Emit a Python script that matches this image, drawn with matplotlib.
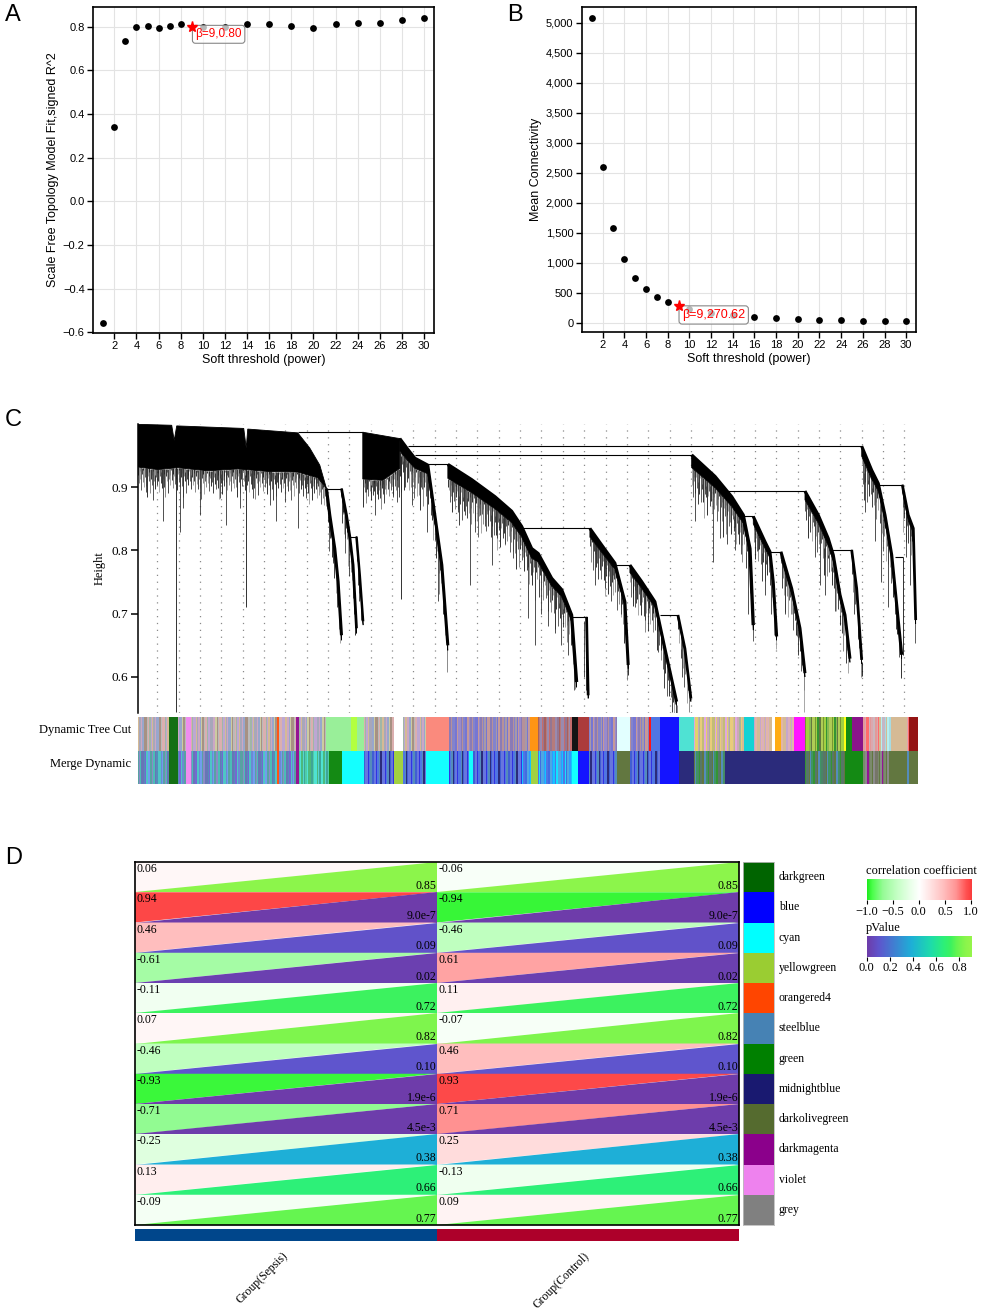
import numpy as np
import matplotlib
matplotlib.use("Agg")
import matplotlib.pyplot as plt
from matplotlib.colors import LinearSegmentedColormap
from matplotlib.collections import LineCollection, PolyCollection
from matplotlib.patches import Polygon, Rectangle
from matplotlib.ticker import FuncFormatter

SANS = ['Liberation Sans', 'DejaVu Sans']
SERIF = ['Liberation Serif', 'DejaVu Serif']
plt.rcParams['font.family'] = SANS

# ---------------- Panel A / B data ----------------
powers = [1, 2, 3, 4, 5, 6, 7, 8, 9, 10, 12, 14, 16, 18, 20, 22, 24, 26, 28, 30]
signed_r2 = [-0.558, 0.34, 0.733, 0.797, 0.803, 0.792, 0.803, 0.812, 0.80, 0.80,
             0.80, 0.81, 0.81, 0.803, 0.795, 0.81, 0.818, 0.817, 0.829, 0.838]
mean_conn = [5072, 2600, 1572, 1055, 750, 561, 433, 339, 270.62, 222,
             167, 122, 89, 72, 56, 44, 39, 33, 28, 22]
best_power = 9
best_r2 = 0.80
best_k = 270.62

# ---------------- Panel C data (dendrogram, leaf axis 0..780) ----------------
block_A_top_u = [0, 34, 36.5, 39, 106, 108.5, 110, 160, 172, 182, 188.7]
block_A_top_h = [0.9995, 0.998, 0.974, 0.997, 0.993, 0.962, 0.992, 0.986, 0.962, 0.935, 0.898]
block_A_bot_u = [0, 20, 40, 70, 100, 130, 160, 180, 188.7]
block_A_bot_h = [0.932, 0.928, 0.931, 0.926, 0.929, 0.925, 0.924, 0.915, 0.898]
block_A_leaves = [(8.7, 0.893), (15.3, 0.880), (25.3, 0.846), (42, 0.83), (45.3, 0.867),
                  (62, 0.856), (82, 0.883), (88.7, 0.84), (102, 0.867), (115.3, 0.883),
                  (132, 0.872), (138.7, 0.847), (147, 0.877), (160.3, 0.835), (168.7, 0.883)]
block_B_top_u = [225, 258, 262]
block_B_top_h = [0.987, 0.978, 0.977]
block_B_bot_u = [225, 245, 262]
block_B_bot_h = [0.913, 0.911, 0.93]
block_B_leaves = [(228.7, 0.893), (237, 0.856), (245, 0.89), (255, 0.885), (259, 0.877)]
extra_leaves = [(38.7, 0.974, 0.545), (108.7, 0.962, 0.71), (263.5, 0.95, 0.724), (765.3, 0.79, 0.635)]

branches = [
    # path, t0, t1, lw, leaves
    ([(188.7, 0.898), (192, 0.856), (197, 0.803), (200.3, 0.751), (203.7, 0.666)], 0.012, 0.008, 2.2,
     [(191, 0.83), (195, 0.78), (199, 0.71)]),
    ([(203.7, 0.898), (208.7, 0.856), (212, 0.822), (215.3, 0.777), (218.7, 0.677)], 0.010, 0.008, 2.0,
     [(207, 0.82), (211, 0.76), (216, 0.70)]),
    ([(218.7, 0.822), (222, 0.76), (225.3, 0.688)], 0.008, 0.006, 1.8, [(221, 0.72)]),
    ([(262, 0.977), (270, 0.96), (277, 0.946), (290, 0.935), (297, 0.856), (304, 0.777), (310, 0.65)],
     0.02, 0.008, 2.2, [(267, 0.90), (274, 0.872), (283, 0.90), (289, 0.83), (300, 0.72)]),
    ([(310, 0.936), (333.7, 0.912), (357, 0.885), (373.7, 0.862), (383.7, 0.838), (393.7, 0.803),
      (400.3, 0.795), (413.7, 0.756), (423.7, 0.738), (433.7, 0.698), (438.7, 0.592)], 0.022, 0.008, 2.4,
     [(315, 0.893), (320, 0.861), (327, 0.856), (332, 0.745), (337, 0.83), (342, 0.856), (347, 0.838),
      (353.7, 0.777), (359, 0.82), (367, 0.81), (375, 0.788), (384, 0.80), (390.3, 0.693), (397, 0.65),
      (403, 0.70), (410, 0.68), (417, 0.67), (423, 0.65), (430, 0.635)]),
    ([(448.7, 0.695), (449.5, 0.63), (450.3, 0.571)], 0.006, 0.005, 2.0, [(446, 0.60), (448, 0.58)]),
    ([(452, 0.835), (463.7, 0.809), (477, 0.78), (487, 0.719), (490.3, 0.619)], 0.014, 0.006, 2.2,
     [(457, 0.745), (467, 0.74), (473, 0.72), (483, 0.70)]),
    ([(492, 0.777), (503.7, 0.751), (513.7, 0.727), (517, 0.719), (527, 0.645), (538.7, 0.561)],
     0.012, 0.006, 2.2, [(497, 0.71), (507, 0.69), (520, 0.64), (530, 0.60)]),
    ([(540, 0.698), (547, 0.645), (553, 0.566)], 0.006, 0.005, 2.0, [(544, 0.60), (550, 0.58)]),
    ([(553.7, 0.951), (577, 0.917), (593.7, 0.885), (605.3, 0.856), (612, 0.803), (615.3, 0.682)],
     0.02, 0.008, 2.4, [(557, 0.846), (567, 0.89), (575.3, 0.782), (582, 0.82), (589, 0.81),
                        (597, 0.80), (603, 0.795), (610, 0.70)]),
    ([(615.3, 0.854), (627, 0.814), (632, 0.798), (635.3, 0.75), (638.7, 0.664)], 0.012, 0.006, 2.2,
     [(620, 0.80), (627, 0.73), (633, 0.70)]),
    ([(643, 0.798), (653.7, 0.74), (662, 0.677), (667, 0.606)], 0.010, 0.006, 2.2,
     [(647, 0.70), (657, 0.69)]),
    ([(667, 0.894), (680.3, 0.856), (690.3, 0.819), (695.3, 0.793), (702, 0.73), (707, 0.698), (712, 0.629)],
     0.014, 0.006, 2.2, [(670.3, 0.833), (677, 0.79), (682, 0.745), (687, 0.73), (697, 0.705)]),
    ([(713.7, 0.801), (718.7, 0.74), (723.7, 0.627)], 0.008, 0.006, 2.0, [(716, 0.70), (720, 0.66)]),
    ([(723.7, 0.965), (733.7, 0.927), (740.3, 0.906), (747, 0.856), (753.7, 0.793), (763.7, 0.635)],
     0.016, 0.006, 2.2, [(727, 0.861), (737, 0.815), (743, 0.75), (750, 0.71), (757, 0.70)]),
    ([(764.3, 0.904), (770.3, 0.856), (775.3, 0.835), (777.7, 0.69)], 0.010, 0.006, 2.0,
     [(768, 0.79), (772, 0.745), (776, 0.72)]),
]
merges = [(160, 225, 0.987), (270, 723.7, 0.965), (277, 553.7, 0.951), (290, 310, 0.936),
          (188.7, 203.7, 0.898), (212, 218.7, 0.822), (383.7, 452, 0.835), (433.7, 448.7, 0.695),
          (477, 492, 0.777), (522, 540, 0.698), (605.3, 615.3, 0.854), (632, 643, 0.798),
          (587, 667, 0.894), (693.7, 713.7, 0.801), (740.3, 764.3, 0.904), (757, 765.3, 0.79)]
hair_pat = [0.012, 0.025, 0.006, 0.018, 0.035, 0.01, 0.022, 0.004, 0.03, 0.015, 0.008, 0.028,
            0.045, 0.012, 0.02, 0.006, 0.038, 0.016, 0.01, 0.026, 0.003, 0.019, 0.032, 0.009]
hair_cols = ['#222222', '#777777', '#111111', '#999999', '#444444']

# colour bars
mix_palettes = {
    'dA': ['#d2b48c', '#a0a0b4', '#c8a0c0', '#8fa0c8', '#c8c898', '#a08878', '#b4b4b4', '#d8a8a8', '#98b0a0', '#b8a0d0'],
    'dB': ['#9080c8', '#8070b0', '#b08890', '#7878c8', '#a090a0', '#6a6ad0', '#c09090'],
    'dC': ['#a0524f', '#b07070', '#9080a8', '#c06060', '#8a6a8a'],
    'dD': ['#d2b48c', '#bdb76b', '#dda0dd', '#e0d060', '#c8a0b0', '#a0b090', '#e8c870'],
    'dE': ['#d8a8b8', '#d2b48c', '#c0a0c8', '#e0b0a0'],
    'dF': ['#6b8e23', '#9acd32', '#228b22', '#7cb342', '#556b2f', '#a8c848'],
    'dG': ['#d8a0a8', '#ff6060', '#c8b0b8', '#e09090'],
    'dH': ['#afeeee', '#c0b0c0', '#a0d8e0', '#d2b48c'],
    'mA': ['#4682b4', '#6a5acd', '#40c0c0', '#5f7fd0', '#6495ed', '#4a9a9a', '#8080c0', '#3cb8b0', '#5a6ab0'],
    'mB': ['#40e0d0', '#3cb371', '#48d1cc', '#2e9e8e', '#40c8a0'],
    'mC': ['#2020e0', '#4169e1', '#4682b4', '#191970', '#3050d0', '#5a6adc'],
    'mD': ['#1e90ff', '#00bfff', '#4169e1', '#00e0ff', '#3060e0', '#40a0e0'],
    'mE': ['#556b2f', '#4682b4', '#2e8b57', '#3a7a5a', '#228b22', '#4a6a5a'],
    'mF': ['#556b2f', '#808080', '#8b008b', '#6a6a5a', '#708060'],
}
stripe_w = [1.1, 2.3, 0.8, 1.6, 0.6, 2.9, 1.2, 0.9, 1.9, 0.7, 1.4, 2.1]
dtc_segments = [
    (0, 31.3, 'dA'), (31.3, 40.3, '#006400'), (40.3, 48, 'dA'), (48, 53, '#ee82ee'), (53, 139.7, 'dA'),
    (139.7, 141.7, '#ff4500'), (141.7, 158, 'dA'), (158, 161.3, '#8b008b'), (161.3, 188, 'dA'),
    (188, 213, '#90ee90'), (213, 219.7, '#adff2f'), (219.7, 226.3, '#90ee90'), (226.3, 256.3, 'dA'),
    (256.3, 264.7, '#ffffff'), (264.7, 288, 'dA'), (288, 311.3, '#fa8072'), (311.3, 392.3, 'dB'),
    (392.3, 400, '#ff8c00'), (400, 434, 'dC'), (434, 440, '#000000'), (440, 451.3, '#a52a2a'),
    (451.3, 479, 'dB'), (479, 492.3, '#e0ffff'), (492.3, 510.7, 'dB'), (510.7, 513.3, '#ff0000'),
    (513.3, 522.3, '#4169e1'), (522.3, 540.7, '#0000ff'), (540.7, 556.3, '#40e0d0'), (556.3, 605.7, 'dD'),
    (605.7, 616.3, '#00ced1'), (616.3, 634, 'dE'), (634, 637.3, '#ffffff'), (637.3, 643.3, '#ffa500'),
    (643.3, 655.7, 'dE'), (655.7, 667.3, '#ff00ff'), (667.3, 705.7, 'dF'), (705.7, 708, '#ffff00'),
    (708, 714, '#008000'), (714, 724.7, '#800080'), (724.7, 740.7, 'dG'), (740.7, 754, 'dH'),
    (754, 769, '#d2b48c'), (769, 771, 'dG'), (771, 780, '#8b0000')]
merge_segments = [
    (0, 31.3, 'mA'), (31.3, 40.3, '#006400'), (40.3, 48, 'mA'), (48, 53, '#ee82ee'), (53, 139.7, 'mA'),
    (139.7, 141.7, '#ff4500'), (141.7, 158, 'mA'), (158, 161.3, '#8b008b'), (161.3, 191.3, 'mB'),
    (191.3, 204.7, '#008000'), (204.7, 226.3, '#00ffff'), (226.3, 256.3, 'mC'), (256.3, 264.7, '#9acd32'),
    (264.7, 288, 'mC'), (288, 311.3, '#00ffff'), (311.3, 331.3, 'mC'), (331.3, 334.7, '#00ffff'),
    (334.7, 384, 'mC'), (384, 393.3, 'mD'), (393.3, 400, '#9acd32'), (400, 434, 'mD'),
    (434, 440, '#00ffff'), (440, 451.3, '#0000ff'), (451.3, 479, 'mC'), (479, 492.3, '#556b2f'),
    (492.3, 522.3, 'mC'), (522.3, 540.7, '#0000ff'), (540.7, 556.3, '#191970'), (556.3, 587.3, 'mE'),
    (587.3, 667.3, '#191970'), (667.3, 707.3, 'mE'), (707.3, 724.7, '#008000'), (724.7, 750.7, 'mF'),
    (750.7, 769, '#556b2f'), (769, 771, '#4682b4'), (771, 780, '#556b2f')]

# ---------------- Panel D data ----------------
modules = ['darkgreen', 'blue', 'cyan', 'yellowgreen', 'orangered4', 'steelblue', 'green',
           'midnightblue', 'darkolivegreen', 'darkmagenta', 'violet', 'grey']
module_colors = ['#006400', '#0000ff', '#00ffff', '#9acd32', '#ff4500', '#4682b4', '#008000',
                 '#191970', '#556b2f', '#8b008b', '#ee82ee', '#808080']
groups = ['Group(Sepsis)', 'Group(Control)']
group_colors = ['#00468b', '#ad002a']
cor_sepsis = [0.06, 0.94, 0.46, -0.61, -0.11, 0.07, -0.46, -0.93, -0.71, -0.25, 0.13, -0.09]
cor_control = [-0.06, -0.94, -0.46, 0.61, 0.11, -0.07, 0.46, 0.93, 0.71, 0.25, -0.13, 0.09]
pvalues = [0.85, 9.0e-7, 0.09, 0.02, 0.72, 0.82, 0.10, 1.9e-6, 4.5e-3, 0.38, 0.66, 0.77]

# ---------------- colormaps ----------------
def rgb(*c):
    return tuple(v / 255 for v in c)

cor_nodes = [(-1.0, rgb(30, 235, 30)), (-0.9, rgb(75, 255, 75)), (-0.7, rgb(150, 251, 150)),
             (-0.45, rgb(193, 255, 193)), (-0.2, rgb(230, 255, 230)), (0.0, rgb(255, 255, 255)),
             (0.2, rgb(255, 228, 228)), (0.45, rgb(255, 192, 192)), (0.7, rgb(255, 148, 148)),
             (0.9, rgb(255, 80, 80)), (1.0, rgb(250, 60, 60))]
cor_cmap = LinearSegmentedColormap.from_list('cor', [((v + 1) / 2, c) for v, c in cor_nodes])
p_nodes = [(0.0, rgb(110, 60, 170)), (0.1, rgb(95, 85, 205)), (0.38, rgb(30, 175, 215)),
           (0.55, rgb(30, 220, 170)), (0.66, rgb(45, 240, 120)), (0.72, rgb(60, 242, 95)),
           (0.77, rgb(100, 245, 80)), (0.85, rgb(140, 245, 75)), (0.9, rgb(150, 245, 75))]
p_cmap = LinearSegmentedColormap.from_list('pv', [(v / 0.9, c) for v, c in p_nodes])

W, H = 982, 1312
def rect(x0, y0, x1, y1):
    return [x0 / W, 1 - y1 / H, (x1 - x0) / W, (y1 - y0) / H]

fig = plt.figure(figsize=(W / 100, H / 100), dpi=100)

def style_ab(ax):
    for s in ax.spines.values():
        s.set_color('black'); s.set_linewidth(1.2)
    ax.grid(True, color='#e3e3e3', lw=0.8)
    ax.set_axisbelow(True)
    ax.tick_params(labelsize=8, length=4, width=1, direction='out', pad=2)
    ax.set_xticks(range(2, 31, 2))
    ax.set_xlim(0.07, 30.9)
    ax.set_xlabel('Soft threshold (power)', fontsize=9, labelpad=2)

pw = np.array(powers)
mask = pw != best_power
box_style = dict(boxstyle='round,pad=0.25', fc=(1, 1, 1, 0.72), ec='#888888', lw=0.8)

# ---- Panel A ----
axA = fig.add_axes(rect(93, 7, 434, 333))
axA.scatter(pw[mask], np.array(signed_r2)[mask], s=24, c='black', zorder=3, linewidths=0)
axA.plot([best_power], [best_r2], marker='*', color='red', ms=8, zorder=7, ls='none')
axA.annotate(f'β={best_power},{best_r2:.2f}', xy=(best_power, best_r2), xytext=(2.6, -1.2),
             textcoords='offset points', ha='left', va='top', color='red', fontsize=8.5,
             bbox=box_style, zorder=6)
style_ab(axA)
axA.set_ylim(-0.603, 0.89)
axA.set_yticks(np.round(np.arange(-0.6, 0.81, 0.2), 1))
axA.yaxis.set_major_formatter(FuncFormatter(lambda v, p: f'{v:.1f}'.replace('-', '−')))
axA.set_ylabel('Scale Free Topology Model Fit,signed R^2', fontsize=9, labelpad=3)

# ---- Panel B ----
axB = fig.add_axes(rect(581.7, 7, 916, 332))
axB.scatter(pw[mask], np.array(mean_conn)[mask], s=24, c='black', zorder=3, linewidths=0)
axB.plot([best_power], [best_k], marker='*', color='red', ms=8, zorder=7, ls='none')
axB.annotate(f'β={best_power},{best_k:.2f}', xy=(best_power, best_k), xytext=(2.6, -1.8),
             textcoords='offset points', ha='left', va='top', color='red', fontsize=9,
             bbox=box_style, zorder=6)
style_ab(axB)
axB.set_ylim(-155, 5262)
axB.set_yticks(range(0, 5001, 500))
axB.yaxis.set_major_formatter(FuncFormatter(lambda v, p: f'{int(v):,}'))
axB.set_ylabel('Mean Connectivity', fontsize=9, labelpad=3)

# panel letters
for lab, x, y in [('A', 5, 4), ('B', 507, 4), ('C', 5, 409), ('D', 5, 847)]:
    fig.text(x / W, 1 - y / H, lab, fontsize=17, va='top', ha='left', family=SANS)

# ---- Panel C: dendrogram ----
H0, H1 = 0.5435, 1.0
axC = fig.add_axes(rect(137.7, 424, 918, 712.7))
axC.set_xlim(0, 780); axC.set_ylim(H0, H1)
for s in ['top', 'right', 'bottom']:
    axC.spines[s].set_visible(False)
axC.spines['left'].set_linewidth(1.1)
axC.set_xticks([])
axC.set_yticks([0.6, 0.7, 0.8, 0.9])
axC.tick_params(axis='y', labelsize=9.5, length=5, width=1.1, pad=2)
for t in axC.get_yticklabels():
    t.set_fontfamily(SERIF)
axC.set_ylabel('Height', fontsize=9, family=SERIF, labelpad=4)
axC.vlines(np.arange(19.7, 780, 21.33), H0, H1, colors='#8a8a8a', linestyles=(0, (1, 4.5)), lw=0.9, zorder=0)

hair_segs, hair_c = [], []
hk = [0]
def add_hairs(u0, u1, edge_u, edge_h, scale, step=0.9):
    for u in np.arange(u0 + 0.3, u1, step):
        top = np.interp(u, edge_u, edge_h)
        L = hair_pat[hk[0] % len(hair_pat)] * scale
        hair_segs.append([(u, top), (u, top - L)])
        hair_c.append(hair_cols[hk[0] % len(hair_cols)])
        hk[0] += 1

def add_leaves(leaves, edge_u, edge_h):
    for u, hb in leaves:
        top = np.interp(u, edge_u, edge_h)
        hair_segs.append([(u, top), (u, hb)])
        hair_c.append('#333333')

for tu, th, bu, bh, lv in [(block_A_top_u, block_A_top_h, block_A_bot_u, block_A_bot_h, block_A_leaves),
                           (block_B_top_u, block_B_top_h, block_B_bot_u, block_B_bot_h, block_B_leaves)]:
    poly = list(zip(tu, th)) + list(zip(bu[::-1], bh[::-1]))
    axC.add_patch(Polygon(poly, closed=True, fc='black', ec='black', lw=0.6, zorder=3))
    add_hairs(bu[0], bu[-1], bu, bh, 1.0, step=0.75)
    add_leaves(lv, bu, bh)

for path, t0, t1, lw, leaves in branches:
    pu = np.array([p[0] for p in path]); ph = np.array([p[1] for p in path])
    tt = np.linspace(t0, t1, len(pu))
    low = ph - tt
    poly = list(zip(pu, ph)) + list(zip(pu[::-1], low[::-1]))
    axC.add_patch(Polygon(poly, closed=True, fc='black', ec='black', lw=0.5, zorder=3))
    axC.plot(pu, ph, color='black', lw=lw, solid_capstyle='butt', zorder=3)
    add_hairs(pu[0], pu[-1], pu, low, 1.4, step=0.8)
    add_leaves(leaves, pu, low)

for u, ht, hb in extra_leaves:
    hair_segs.append([(u, ht), (u, hb)])
    hair_c.append('#111111')

axC.add_collection(LineCollection(hair_segs, colors=hair_c, linewidths=0.6, zorder=2))
axC.hlines([m[2] for m in merges], [m[0] for m in merges], [m[1] for m in merges],
           colors='black', lw=0.8, zorder=3)

# ---- Colour bars ----
axBar = fig.add_axes(rect(137.7, 717, 918, 784))
axBar.set_xlim(0, 780); axBar.set_ylim(0, 2)
axBar.axis('off')
sk = [0]
def draw_row(segments, y0):
    xr, cols = [], []
    for a, b, c in segments:
        if c in mix_palettes:
            pal = mix_palettes[c]
            x = a
            while x < b - 1e-9:
                w = min(stripe_w[sk[0] % len(stripe_w)], b - x)
                xr.append((x, w)); cols.append(pal[sk[0] % len(pal)])
                x += w; sk[0] += 1
        else:
            xr.append((a, b - a)); cols.append(c)
    axBar.broken_barh(xr, (y0, 1), facecolors=cols, edgecolors='none', alpha=0.92)
draw_row(dtc_segments, 1)
draw_row(merge_segments, 0)
fig.text(131 / W, 1 - 730 / H, 'Dynamic Tree Cut', ha='right', va='center', fontsize=9, family=SERIF)
fig.text(131 / W, 1 - 764 / H, 'Merge Dynamic', ha='right', va='center', fontsize=9, family=SERIF)

# ---- Panel D ----
axD = fig.add_axes(rect(135, 862, 739, 1225))
nrow = len(modules)
axD.set_xlim(0, 2); axD.set_ylim(nrow, 0)
axD.set_xticks([]); axD.set_yticks([])
for s in axD.spines.values():
    s.set_linewidth(1.2); s.set_zorder(5)
tris, tcols = [], []
def fmt_p(p):
    if p < 0.01:
        e = int(np.floor(np.log10(p)))
        m = p / 10 ** e
        return f'{m:.1f}e{e}'
    return f'{p:.2f}'
for j, cors in enumerate([cor_sepsis, cor_control]):
    for i in range(nrow):
        tris.append([(j, i), (j + 1, i), (j, i + 1)])
        tcols.append(cor_cmap((cors[i] + 1) / 2))
        tris.append([(j + 1, i), (j + 1, i + 1), (j, i + 1)])
        tcols.append(p_cmap(pvalues[i] / 0.9))
        axD.text(j + 0.004, i + 0.04, f'{cors[i]:.2f}', ha='left', va='top', fontsize=8.5, family=SERIF, zorder=4)
        axD.text(j + 0.998, i + 0.99, fmt_p(pvalues[i]), ha='right', va='bottom', fontsize=8.5, family=SERIF, zorder=4)
axD.add_collection(PolyCollection(tris, facecolors=tcols, edgecolors='none', zorder=1))

axM = fig.add_axes(rect(743, 862, 774, 1225))
axM.set_xlim(0, 1); axM.set_ylim(nrow, 0)
axM.set_xticks([]); axM.set_yticks([])
for s in axM.spines.values():
    s.set_color('#bbbbbb'); s.set_linewidth(0.6)
for i, (m, c) in enumerate(zip(modules, module_colors)):
    axM.add_patch(Rectangle((0, i), 1, 1, fc=c, ec='none'))
    axM.text(1.16, i + 0.5, m, ha='left', va='center', fontsize=8.5, family=SERIF, clip_on=False)

axG = fig.add_axes(rect(135, 1229, 739, 1241))
axG.set_xlim(0, 2); axG.set_ylim(0, 1); axG.axis('off')
for j, c in enumerate(group_colors):
    axG.add_patch(Rectangle((j, 0), 1, 1, fc=c, ec='none'))
for g, xa in zip(groups, [290, 592]):
    fig.text(xa / W, 1 - 1250 / H, g, rotation=45, ha='right', va='top', fontsize=8.5, family=SERIF)

# legends
axL1 = fig.add_axes(rect(866.7, 879, 971, 900))
axL1.imshow(np.linspace(-1, 1, 256)[None, :], cmap=cor_cmap, vmin=-1, vmax=1, aspect='auto', extent=(-1, 1, 0, 1))
axL1.set_yticks([])
axL1.set_xticks([-1, -0.5, 0, 0.5, 1])
axL1.set_xticklabels(['−1.0', '−0.5', '0.0', '0.5', '1.0'], fontsize=9, family=SERIF)
axL1.tick_params(axis='x', length=3, width=0.8, pad=1)
for s in axL1.spines.values():
    s.set_visible(False)
fig.text(866 / W, 1 - 877 / H, 'correlation coefficient', ha='left', va='bottom', fontsize=9, family=SERIF)

axL2 = fig.add_axes(rect(866.7, 936, 971, 956.7))
axL2.imshow(np.linspace(0, 0.9, 256)[None, :], cmap=p_cmap, vmin=0, vmax=0.9, aspect='auto', extent=(0, 0.9, 0, 1))
axL2.set_yticks([])
axL2.set_xticks([0, 0.2, 0.4, 0.6, 0.8])
axL2.set_xticklabels(['0.0', '0.2', '0.4', '0.6', '0.8'], fontsize=9, family=SERIF)
axL2.tick_params(axis='x', length=3, width=0.8, pad=1)
for s in axL2.spines.values():
    s.set_visible(False)
fig.text(866 / W, 1 - 934 / H, 'pValue', ha='left', va='bottom', fontsize=9, family=SERIF)

fig.savefig('out.png', dpi=100)
